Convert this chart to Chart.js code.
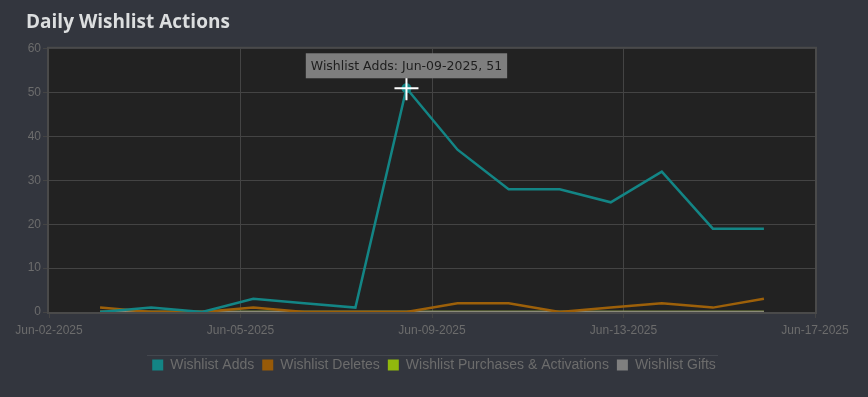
<!DOCTYPE html>
<html>
<head>
<meta charset="utf-8">
<script src="https://cdn.jsdelivr.net/npm/chart.js@4"></script>
<style>
    body { margin: 0; background: #33363e; }
    canvas { display: block; }
</style>
</head>
<body>
<canvas id="myChart" width="868" height="397"></canvas>
<script>
// days of June 2025 for each point
const days = [3, 4, 5, 6, 7, 8, 9, 10, 11, 12, 13, 14, 15, 16];
const wishlistAdds = [0, 1, 0, 3, 2, 1, 51, 37, 28, 28, 25, 32, 19, 19];
const wishlistDeletes = [1, 0, 0, 1, 0, 0, 0, 2, 2, 0, 1, 2, 1, 3];
const wishlistPurchases = [0, 0, 0, 0, 0, 0, 0, 0, 0, 0, 0, 0, 0, 0];
const wishlistGifts = [0, 0, 0, 0, 0, 0, 0, 0, 0, 0, 0, 0, 0, 0];
const xTickValues = [2, 5.75, 9.5, 13.25, 17];
const xTickLabels = ['Jun-02-2025', 'Jun-05-2025', 'Jun-09-2025', 'Jun-13-2025', 'Jun-17-2025'];

const toPoints = (arr) => arr.map((v, i) => ({ x: days[i], y: v }));
const pad = (n) => (n < 10 ? '0' : '') + n;

// plot background + border
const plotFrame = {
    id: 'plotFrame',
    beforeDraw(chart) {
        const { ctx, chartArea: a } = chart;
        ctx.save();
        ctx.fillStyle = '#222222';
        ctx.fillRect(a.left, a.top, a.right - a.left, a.bottom - a.top);
        ctx.restore();
    },
    beforeDatasetsDraw(chart) {
        const { ctx, chartArea: a } = chart;
        ctx.save();
        ctx.strokeStyle = '#4a4a4a';
        ctx.lineWidth = 2;
        ctx.strokeRect(a.left - 1, a.top - 1, a.right - a.left + 2, a.bottom - a.top + 2);
        ctx.restore();
    },
    afterDraw(chart) {
        const { ctx } = chart;
        // line above legend
        const lg = chart.legend;
        ctx.save();
        ctx.strokeStyle = '#44474e';
        ctx.lineWidth = 1;
        ctx.beginPath();
        ctx.moveTo(147, lg.top + 5.5);
        ctx.lineTo(718, lg.top + 5.5);
        ctx.stroke();

        // hovered point on peak
        const idx = wishlistAdds.indexOf(Math.max(...wishlistAdds));
        const pt = chart.getDatasetMeta(0).data[idx];
        ctx.fillStyle = '#138585';
        ctx.beginPath();
        ctx.arc(pt.x, pt.y, 5, 0, Math.PI * 2);
        ctx.fill();
        ctx.strokeStyle = '#ffffff';
        ctx.lineWidth = 2;
        ctx.beginPath();
        ctx.moveTo(pt.x - 12, pt.y);
        ctx.lineTo(pt.x + 12, pt.y);
        ctx.moveTo(pt.x, pt.y - 12);
        ctx.lineTo(pt.x, pt.y + 12);
        ctx.stroke();

        const text = 'Wishlist Adds: Jun-' + pad(days[idx]) + '-2025, ' + wishlistAdds[idx];
        ctx.font = '12.5px "DejaVu Sans"';
        const w = ctx.measureText(text).width + 10;
        const bx = pt.x - w / 2, by = pt.y - 35;
        ctx.fillStyle = '#7e7e7e';
        ctx.fillRect(bx, by, w, 25);
        ctx.fillStyle = '#1e1e1e';
        ctx.textBaseline = 'middle';
        ctx.fillText(text, bx + 5, by + 13);
        ctx.restore();
    }
};

new Chart(document.getElementById('myChart'), {
    type: 'line',
    data: {
        datasets: [{
            label: 'Wishlist Adds',
            data: toPoints(wishlistAdds),
            borderColor: '#138585',
            backgroundColor: '#138585',
            borderWidth: 2.5,
            order: 0
        }, {
            label: 'Wishlist Deletes',
            data: toPoints(wishlistDeletes),
            borderColor: '#9d6009',
            backgroundColor: '#975a08',
            borderWidth: 2.5,
            order: 1
        }, {
            label: 'Wishlist Purchases & Activations',
            data: toPoints(wishlistPurchases),
            borderColor: '#8fb80c',
            backgroundColor: '#91b90d',
            borderWidth: 2.5,
            order: 3
        }, {
            label: 'Wishlist Gifts',
            data: toPoints(wishlistGifts),
            borderColor: '#8a8a78',
            backgroundColor: '#7f7f7f',
            borderWidth: 2.5,
            order: 2
        }]
    },
    options: {
        responsive: false,
        animation: false,
        events: [],
        elements: { point: { radius: 0 }, line: { tension: 0 } },
        layout: { padding: { left: 26, right: 26, top: 0, bottom: 15 } },
        plugins: {
            title: {
                display: true,
                text: 'Daily Wishlist Actions',
                align: 'start',
                color: '#dcdedf',
                font: { family: '"Open Sans"', size: 19, weight: 'bold' },
                padding: { top: 11, bottom: 15 }
            },
            legend: {
                position: 'bottom',
                labels: {
                    color: '#6c6c6c',
                    font: { family: '"Liberation Sans"', size: 14 },
                    boxWidth: 11,
                    boxHeight: 11,
                    padding: 8,
                    sort: (a, b) => a.datasetIndex - b.datasetIndex,
                    generateLabels(chart) {
                        return chart.data.datasets.map((ds, i) => ({
                            text: ds.label,
                            fillStyle: ds.backgroundColor,
                            strokeStyle: ds.backgroundColor,
                            lineWidth: 0,
                            fontColor: '#6c6c6c',
                            datasetIndex: i
                        }));
                    }
                }
            },
            tooltip: { enabled: false }
        },
        scales: {
            x: {
                type: 'linear',
                min: 2,
                max: 17,
                afterFit(scale) { scale.height = 38; },
                afterBuildTicks(scale) {
                    scale.ticks = xTickValues.map((v) => ({ value: v }));
                },
                ticks: {
                    color: '#6c6c6c',
                    font: { family: '"Liberation Sans"', size: 12 },
                    padding: 5,
                    maxRotation: 0,
                    autoSkip: false,
                    callback: (v, i) => xTickLabels[i]
                },
                grid: {
                    color: (c) => (c.index === 0 || c.index === xTickValues.length - 1) ? 'rgba(0,0,0,0)' : '#444444',
                    tickColor: '#444444',
                    tickLength: 6
                },
                border: { display: false }
            },
            y: {
                min: 0,
                max: 60,
                afterFit(scale) { scale.width = 23; },
                ticks: {
                    stepSize: 10,
                    color: '#6c6c6c',
                    font: { family: '"Liberation Sans"', size: 12 },
                    padding: 2
                },
                grid: {
                    color: (c) => (c.index === 0 || c.index === 6) ? 'rgba(0,0,0,0)' : '#444444',
                    tickColor: '#444444',
                    tickLength: 6
                },
                border: { display: false }
            },
            // empty right axis, only reserves the right margin
            yRight: {
                position: 'right',
                min: 0,
                max: 60,
                afterFit(scale) { scale.width = 27; },
                ticks: { display: false },
                grid: { display: false },
                border: { display: false }
            }
        }
    },
    plugins: [plotFrame]
});
</script>
</body>
</html>
